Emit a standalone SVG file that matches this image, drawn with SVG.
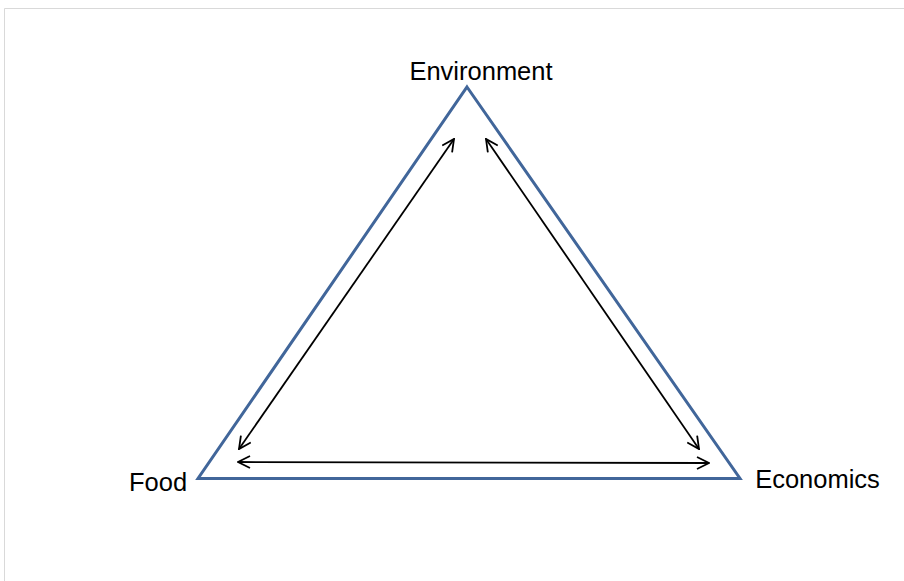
<svg xmlns="http://www.w3.org/2000/svg" width="904" height="581" viewBox="0 0 904 581">
<style>
.lbl{font-family:"Liberation Sans",Arial,sans-serif;font-size:25.5px;fill:#000}
.tri{fill:none;stroke:#41669a;stroke-width:3;stroke-linejoin:miter}
.con{stroke:#000;stroke-width:1.8;fill:none;marker-start:url(#ah);marker-end:url(#ah)}
</style>
<defs>
<marker id="ah" viewBox="0 0 14 14" refX="13" refY="7" markerWidth="14" markerHeight="14" markerUnits="userSpaceOnUse" orient="auto-start-reverse">
<path d="M1,1 L13,7 L1,13" fill="none" stroke="#000" stroke-width="1.8"/>
</marker>
</defs>
<rect width="904" height="581" fill="#fff"/>
<path d="M4.5,581 V8.5 H904" fill="none" stroke="#d9d9d9" stroke-width="1"/>
<g id="triangle"><path class="tri" d="M467,87 L740,478.5 L198,478.5 Z"/></g>
<g id="environment"><text class="lbl" x="481" y="80" text-anchor="middle">Environment</text></g>
<g id="food"><text class="lbl" x="158" y="491" text-anchor="middle">Food</text></g>
<g id="economics"><text class="lbl" x="817.5" y="488" text-anchor="middle">Economics</text></g>
<g id="connectors">
<line class="con" x1="454" y1="139" x2="239" y2="449"/>
<line class="con" x1="486" y1="139" x2="699" y2="449"/>
<line class="con" x1="238" y1="462" x2="709" y2="463"/>
</g>
</svg>
